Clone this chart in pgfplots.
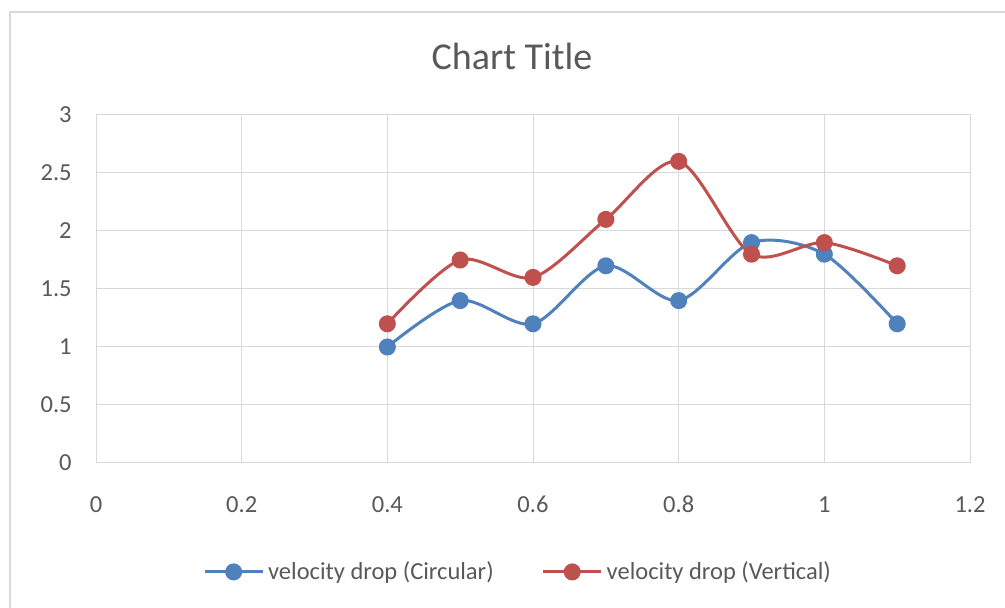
\documentclass[border=0pt]{standalone}
\usepackage{pgfplots}
\pgfplotsset{compat=1.18}
\usepackage{fontspec}
\setmainfont{Carlito}
\definecolor{txt}{HTML}{595959}
\definecolor{gridc}{HTML}{D9D9D9}
\definecolor{frame}{HTML}{D9D9D9}
\definecolor{sblue}{HTML}{4F81BD}
\definecolor{sred}{HTML}{C0504D}
\begin{document}
\begin{tikzpicture}[x=0.5pt,y=0.5pt]
\useasboundingbox (0,0) rectangle (1005,608);
\clip (0,0) rectangle (1005,608);
\fill[white] (0,0) rectangle (1005,608);
\draw[frame, line width=1pt] (9.5,-20) rectangle (1040,595.5);
\node[anchor=base, text=txt, font=\fontsize{19}{22}\selectfont] at (512,538) {Chart Title};
\begin{axis}[
  at={(48pt,72.5pt)}, anchor=south west,
  scale only axis, width=437pt, height=174pt,
  xmin=0, xmax=1.2, ymin=0, ymax=3,
  xtick={0,0.2,...,1.2}, ytick={0,0.5,...,3},
  grid=major, grid style={gridc, line width=0.5pt},
  axis line style={gridc, line width=0.5pt},
  major tick length=0pt,
  /pgf/number format/assume math mode=true,
  tick label style={text=txt, font=\fontsize{12.25}{14}\selectfont, inner sep=0pt},
  xticklabel style={anchor=base, yshift=-25pt},
  yticklabel style={anchor=east, xshift=-12pt},
  legend columns=2,
  legend style={at={(0.484,-0.313)}, anchor=center, draw=none, fill=none,
    font=\fontsize{12.25}{14}\selectfont, text=txt,
    /tikz/every even column/.append style={column sep=22pt},
    inner sep=0pt},
  legend image code/.code={\draw[#1, mark repeat=2, mark phase=2] plot coordinates {(0pt,0pt) (14.5pt,0pt) (29pt,0pt)};},
  every axis plot/.append style={line width=1.5pt, smooth, mark=*, mark size=3.5pt, mark options={solid}},
]
\addplot[color=sblue] coordinates {
(0.4,1.0) (0.5,1.4) (0.6,1.2) (0.7,1.7) (0.8,1.4) (0.9,1.9) (1.0,1.8) (1.1,1.2)};
\addlegendentry{velocity drop (Circular)}
\addplot[color=sred] coordinates {
(0.4,1.2) (0.5,1.75) (0.6,1.6) (0.7,2.1) (0.8,2.6) (0.9,1.8) (1.0,1.9) (1.1,1.7)};
\addlegendentry{velocity drop (Vertical)}
\end{axis}
\end{tikzpicture}
\end{document}
